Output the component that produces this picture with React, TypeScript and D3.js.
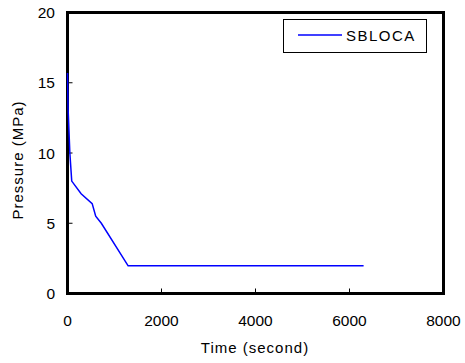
import React from "react";
import * as d3 from "d3";

const timeValues = [0, 12, 50, 90, 290, 525, 600, 720, 1290, 6300];
const pressureValues = [15.7, 13.2, 10.0, 8.0, 7.1, 6.4, 5.5, 5.0, 1.97, 1.97];
const xTicks = [0, 2000, 4000, 6000, 8000];
const yTicks = [0, 5, 10, 15, 20];
const seriesName = "SBLOCA";

export default function App() {
  const W = 465, H = 363;
  const left = 67.5, right = 443.5, top = 12.5, bottom = 293.5;
  const x = d3.scaleLinear().domain([0, 8000]).range([left, right]);
  const y = d3.scaleLinear().domain([0, 20]).range([bottom, top]);
  const data = timeValues.map((t, i) => [t, pressureValues[i]] as [number, number]);
  const line = d3.line<[number, number]>().x(d => x(d[0])).y(d => y(d[1]));
  const font = "Liberation Sans, Arial, sans-serif";
  return (
    <svg width={W} height={H} style={{ position: "absolute", left: 0, top: 0, background: "#fff" }}>
      <rect x={0} y={0} width={W} height={H} fill="#fff" />
      {yTicks.map(t => (
        <g key={"y" + t}>
          {t > 0 && t < 20 && <line x1={left} x2={left + 5} y1={y(t)} y2={y(t)} stroke="#000" strokeWidth={1} />}
          <text x={55} y={y(t) + 5.5} textAnchor="end" fontFamily={font} fontSize={15.5} fill="#000">{t}</text>
        </g>
      ))}
      {xTicks.map(t => (
        <g key={"x" + t}>
          {t > 0 && t < 8000 && <line x1={x(t)} x2={x(t)} y1={bottom} y2={bottom - 5} stroke="#000" strokeWidth={1} />}
          <text x={x(t)} y={326} textAnchor="middle" fontFamily={font} fontSize={15.5} fill="#000">{t}</text>
        </g>
      ))}
      <rect x={left} y={top} width={right - left} height={bottom - top} fill="none" stroke="#000" strokeWidth={3} />
      <path d={line(data) ?? ""} fill="none" stroke="#0000ff" strokeWidth={1.5} />
      <text x={255} y={353} textAnchor="middle" fontFamily={font} fontSize={15} letterSpacing={1} fill="#000">Time (second)</text>
      <text transform={`translate(23,160) rotate(-90)`} textAnchor="middle" fontFamily={font} fontSize={15} letterSpacing={1} fill="#000">Pressure (MPa)</text>
      <rect x={283.5} y={19.5} width={143} height={33} fill="#fff" stroke="#000" strokeWidth={1} />
      <line x1={298} x2={342} y1={35} y2={35} stroke="#0000ff" strokeWidth={1.5} />
      <text x={346} y={40.5} fontFamily={font} fontSize={15} letterSpacing={1.5} fill="#000">{seriesName}</text>
    </svg>
  );
}
